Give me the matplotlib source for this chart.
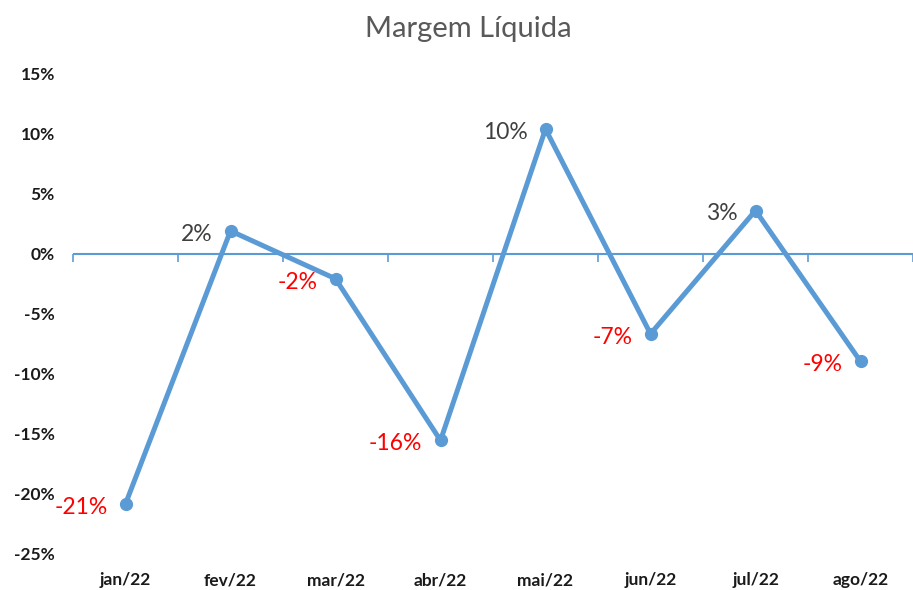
import matplotlib
matplotlib.use('Agg')
import matplotlib.pyplot as plt
import numpy as np

plt.rcParams['font.family'] = ['Lato', 'DejaVu Sans']

# dados
meses = ['jan/22', 'fev/22', 'mar/22', 'abr/22', 'mai/22', 'jun/22', 'jul/22', 'ago/22']
margem = [-20.9, 1.9, -2.1, -15.6, 10.4, -6.7, 3.6, -9.0]
rotulos = ['-21%', '2%', '-2%', '-16%', '10%', '-7%', '3%', '-9%']
yticks = [-25, -20, -15, -10, -5, 0, 5, 10, 15]

azul = '#5B9BD5'

fig = plt.figure(figsize=(9.13, 5.90), dpi=100)
ax = fig.add_axes([73 / 913, 1 - 553 / 590, 840 / 913, (553 - 74) / 590])

x = np.arange(len(meses))
ax.axhline(0, color=azul, linewidth=1.5, zorder=1)
ax.plot(x, margem, color=azul, linewidth=3.6, marker='o', markersize=8.5, zorder=3)

# rótulos de dados à esquerda dos pontos
for xi, v, r in zip(x, margem, rotulos):
    cor = '#FF0000' if v < 0 else '#404040'
    ax.annotate(r, (xi, v), xytext=(-13, -2.5), textcoords='offset points',
                ha='right', va='center', fontsize=16.5, color=cor)

ax.set_xlim(-0.5, len(meses) - 0.5)
ax.set_ylim(-25, 15)
ax.set_yticks(yticks)
ax.set_yticklabels([f'{t}%' for t in yticks], fontweight='bold', fontsize=12.5, color='#1a1a1a')
ax.tick_params(axis='y', length=0, pad=13)

ax.set_xticks(x)
ax.set_xticklabels(meses, fontweight='bold', fontsize=12.5, color='#1a1a1a')
ax.tick_params(axis='x', length=0, pad=14)

for s in ax.spines.values():
    s.set_visible(False)

# marcas entre categorias no eixo do zero
pos_zero = (0 - (-25)) / 40
sec = ax.secondary_xaxis(pos_zero)
sec.set_xticks(np.arange(-0.5, len(meses), 1.0))
sec.set_xticklabels([])
sec.tick_params(axis='x', direction='in', length=6, width=1.2, color=azul)
for s in sec.spines.values():
    s.set_visible(False)

fig.text(468 / 913, 1 - 29 / 590, 'Margem Líquida', ha='center', va='center',
         fontsize=21, color='#595959')

fig.savefig('out.png', dpi=100)
